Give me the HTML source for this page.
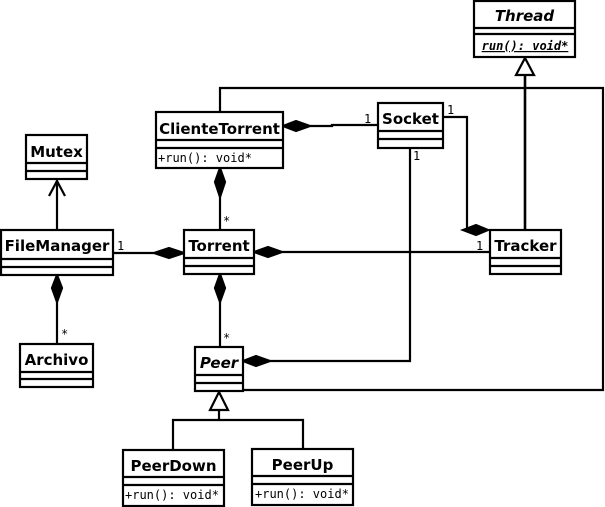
<!DOCTYPE html>
<html><head><meta charset="utf-8"><style>
html,body{margin:0;padding:0;background:#fff;width:605px;height:507px;overflow:hidden}
svg text{font-family:"DejaVu Sans","Liberation Sans",sans-serif}
.n{font-weight:bold;font-size:15px}
.m{font-family:"DejaVu Sans Mono","Liberation Mono",monospace !important;font-size:12px}
</style></head><body>
<svg width="605" height="507" viewBox="0 0 605 507" xmlns="http://www.w3.org/2000/svg">
<g fill="#fff" stroke="#000" stroke-width="2.2">
<polyline fill="none" points="220,112 220,88 603,88 603,390 243,390"/>
<line x1="525" y1="75" x2="525" y2="230" stroke-width="2.6"/>
<polygon points="525,58 516,75 534,75"/>
<polyline fill="none" points="310,126 332,126 332,125 378,125"/>
<polygon fill="#000" points="283,126 296,121 310,126 296,131"/>
<polyline fill="none" points="443,117 467,117 467,230"/>
<polygon fill="#000" points="463,230 476,225 488,230 476,235"/>
<polyline fill="none" points="410,148 410,361 270,361"/>
<polygon fill="#000" points="243,361 256,356 270,361 256,366"/>
<line x1="282" y1="252" x2="490" y2="252"/>
<polygon fill="#000" points="254,252 268,247 282,252 268,257"/>
<line x1="113" y1="253" x2="154" y2="253"/>
<polygon fill="#000" points="184,253 169,248 154,253 169,258"/>
<line x1="220" y1="197" x2="220" y2="230"/>
<polygon fill="#000" points="220,168 215,182 220,197 225,182"/>
<line x1="220" y1="302" x2="220" y2="346"/>
<polygon fill="#000" points="220,274 215,288 220,302 225,288"/>
<line x1="57" y1="302" x2="57" y2="344"/>
<polygon fill="#000" points="57,275 52,288 57,302 62,288"/>
<line x1="57" y1="230" x2="57" y2="180"/>
<polyline fill="none" points="49,196 57,181 65,196"/>
<polyline fill="none" points="173,449 173,420 303,420 303,448"/>
<line x1="219" y1="410" x2="219" y2="420"/>
<polygon points="219,392 210,410 228,410"/>

<rect x="474" y="1" width="101" height="56"/>
<line x1="474" y1="28" x2="575" y2="28"/><line x1="474" y1="34" x2="575" y2="34"/>
<rect x="156" y="112" width="127" height="56"/>
<line x1="156" y1="140" x2="283" y2="140"/><line x1="156" y1="148" x2="283" y2="148"/>
<rect x="378" y="103" width="65" height="45"/>
<line x1="378" y1="131" x2="443" y2="131"/><line x1="378" y1="139" x2="443" y2="139"/>
<rect x="26" y="135" width="61" height="44"/>
<line x1="26" y1="163" x2="87" y2="163"/><line x1="26" y1="171" x2="87" y2="171"/>
<rect x="1" y="230" width="112" height="45"/>
<line x1="1" y1="259" x2="113" y2="259"/><line x1="1" y1="267" x2="113" y2="267"/>
<rect x="184" y="230" width="70" height="44"/>
<line x1="184" y1="258" x2="254" y2="258"/><line x1="184" y1="266" x2="254" y2="266"/>
<rect x="490" y="230" width="71" height="44"/>
<line x1="490" y1="258" x2="561" y2="258"/><line x1="490" y1="266" x2="561" y2="266"/>
<rect x="20" y="344" width="73" height="43"/>
<line x1="20" y1="372" x2="93" y2="372"/><line x1="20" y1="379" x2="93" y2="379"/>
<rect x="195" y="347" width="48" height="44"/>
<line x1="195" y1="375" x2="243" y2="375"/><line x1="195" y1="383" x2="243" y2="383"/>
<rect x="123" y="450" width="101" height="56"/>
<line x1="123" y1="477" x2="224" y2="477"/><line x1="123" y1="485" x2="224" y2="485"/>
<rect x="252" y="449" width="101" height="56"/>
<line x1="252" y1="476" x2="353" y2="476"/><line x1="252" y1="484" x2="353" y2="484"/>
</g>
<g fill="#000">
<text class="n" x="524.5" y="21" text-anchor="middle" font-style="italic">Thread</text>
<text class="m" x="525" y="50" text-anchor="middle" font-style="italic" font-weight="bold" text-decoration="underline">run(): void*</text>
<text class="n" x="219.5" y="134" text-anchor="middle">ClienteTorrent</text>
<text class="m" x="158" y="162">+run(): void*</text>
<text class="n" x="410.5" y="124" text-anchor="middle">Socket</text>
<text class="n" x="56.5" y="157" text-anchor="middle">Mutex</text>
<text class="n" x="57" y="251" text-anchor="middle">FileManager</text>
<text class="n" x="219" y="251" text-anchor="middle">Torrent</text>
<text class="n" x="525.5" y="251" text-anchor="middle">Tracker</text>
<text class="n" x="56.5" y="365" text-anchor="middle">Archivo</text>
<text class="n" x="219" y="368" text-anchor="middle" font-style="italic">Peer</text>
<text class="n" x="173.5" y="471" text-anchor="middle">PeerDown</text>
<text class="n" x="302.5" y="470" text-anchor="middle">PeerUp</text>
<text class="m" x="125" y="499">+run(): void*</text>
<text class="m" x="255" y="498">+run(): void*</text>
<text class="m" x="364" y="123">1</text>
<text class="m" x="447" y="114">1</text>
<text class="m" x="413" y="160">1</text>
<text class="m" x="476" y="250">1</text>
<text class="m" x="117" y="250">1</text>
<text class="m" x="223" y="225">*</text>
<text class="m" x="223" y="342">*</text>
<text class="m" x="61" y="338">*</text>
</g>
</svg>
</body></html>
